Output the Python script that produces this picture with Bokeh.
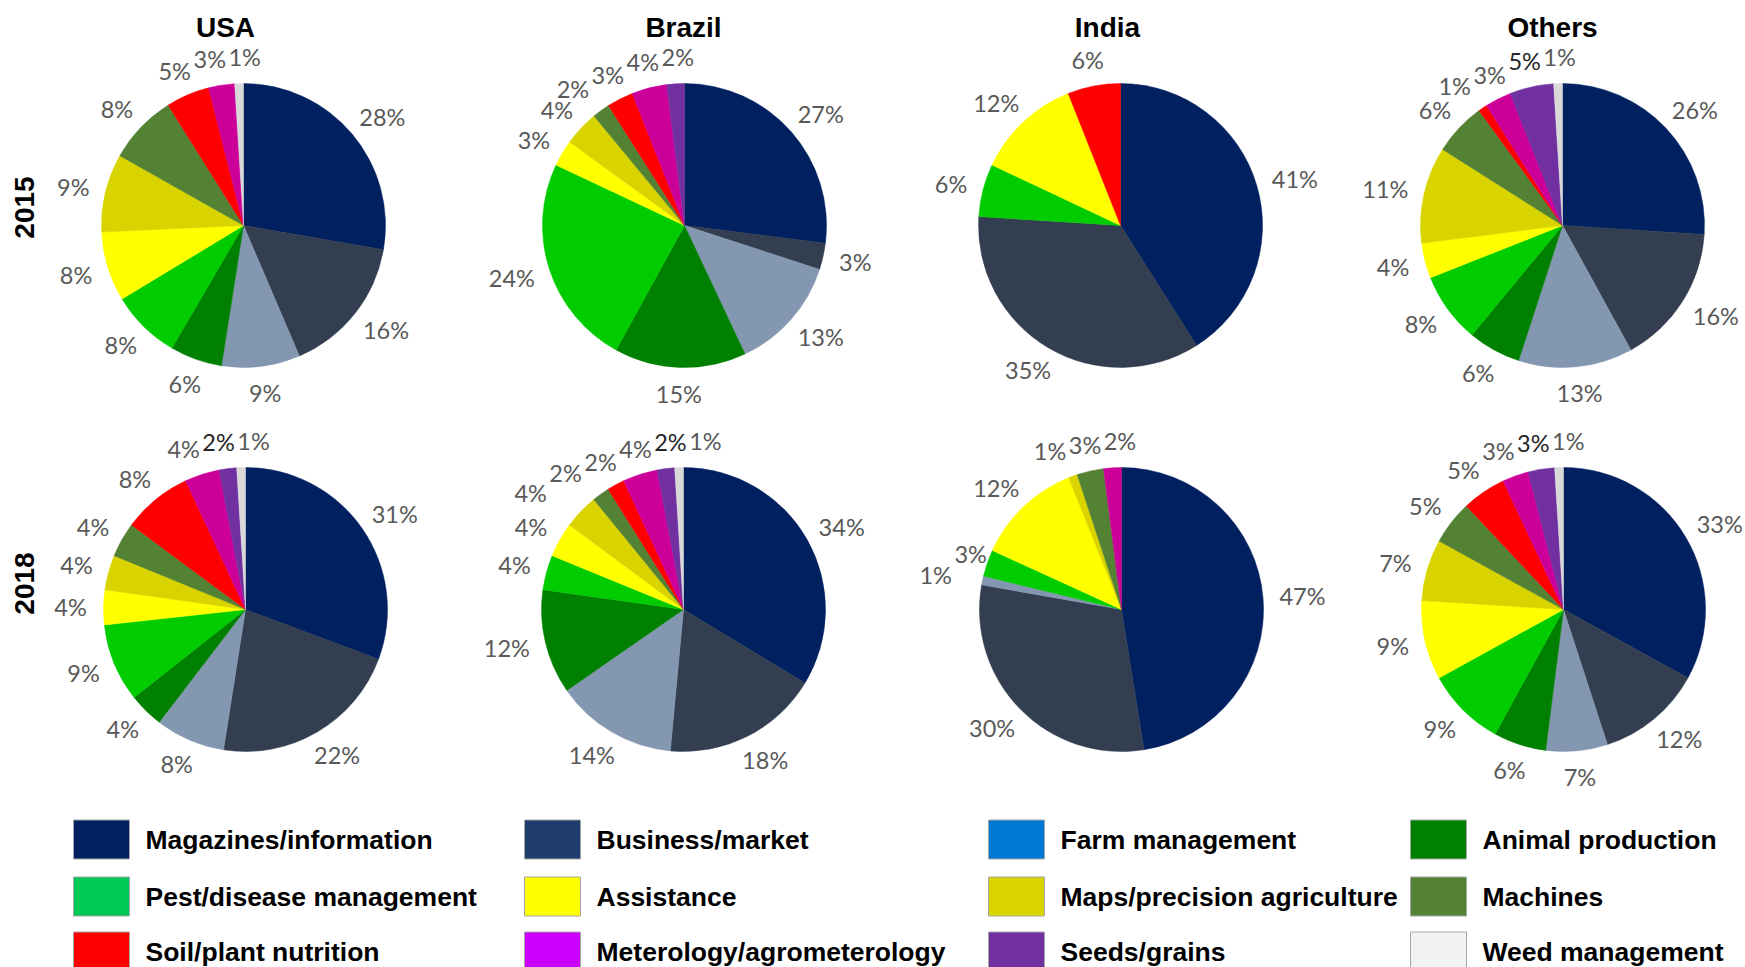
import math
from bokeh.plotting import figure
from bokeh.models import ColumnDataSource, Range1d
from bokeh.core.properties import value
from bokeh.embed import file_html
from bokeh.resources import INLINE

# Categories in the order the slices run clockwise from 12 o'clock
categories = [
    "Magazines/information", "Business/market", "Farm management",
    "Animal production", "Pest/disease management", "Assistance",
    "Maps/precision agriculture", "Machines", "Soil/plant nutrition",
    "Meterology/agrometerology", "Seeds/grains", "Weed management",
]
pie_colors = [
    "#002060", "#333F50", "#8497B0", "#008000", "#00CC00", "#FFFF00",
    "#D9D400", "#548235", "#FF0000", "#CC0099", "#7030A0", "#D9D9D9",
]
legend_colors = [
    "#002060", "#1F3D6C", "#0078D4", "#008000", "#00C957", "#FFFF00",
    "#D9D400", "#548235", "#FF0000", "#CC00FF", "#7030A0", "#F2F2F2",
]

countries = ["USA", "Brazil", "India", "Others"]
years = ["2015", "2018"]

# Share of each category (%), same order as `categories`
usa_2015 = [28, 16, 9, 6, 8, 8, 9, 8, 5, 3, 0, 1]
brazil_2015 = [27, 3, 13, 15, 24, 3, 4, 2, 3, 4, 2, 0]
india_2015 = [41, 35, 0, 0, 6, 12, 0, 0, 6, 0, 0, 0]
others_2015 = [26, 16, 13, 6, 8, 4, 11, 6, 1, 3, 5, 1]
usa_2018 = [31, 22, 8, 4, 9, 4, 4, 4, 8, 4, 2, 1]
brazil_2018 = [34, 18, 14, 12, 4, 4, 4, 2, 2, 4, 2, 1]
india_2018 = [47, 30, 1, 0, 3, 12, 1, 3, 0, 2, 0, 0]
others_2018 = [33, 12, 7, 6, 9, 9, 7, 5, 5, 3, 3, 1]

shares = [
    [usa_2015, brazil_2015, india_2015, others_2015],
    [usa_2018, brazil_2018, india_2018, others_2018],
]
# panels whose seeds/grains label is printed darker
dark_seed_label = [[False, False, False, True], [True, True, False, True]]

W, H = 1745, 967


def Y(y):
    return H - y


p = figure(width=W, height=H, x_range=Range1d(0, W), y_range=Range1d(0, H),
           output_backend="svg", toolbar_location=None,
           x_axis_location=None, y_axis_location=None, min_border=0)
p.grid.grid_line_color = None
p.outline_line_color = None
p.background_fill_color = "white"
p.border_fill_color = "white"

R = 142
GAP = 17
LABEL_FS = 23.5
centers_x = [[243, 684, 1120, 1562], [245, 683, 1121, 1563]]
centers_y = [225, 609]
title_x = [225, 683, 1107, 1552]


def text_width(s, fs):
    return sum((0.80 if ch == "%" else 0.56) * fs for ch in s)


wx, wy, ws, we, wc = [], [], [], [], []
lx, ly, lt, lc = [], [], [], []

for r in range(2):
    for c in range(4):
        vals = shares[r][c]
        total = float(sum(vals))
        cx, cy = centers_x[r][c], centers_y[r]
        cum = 0.0
        labels = []
        for k, v in enumerate(vals):
            if v <= 0:
                continue
            f0, f1 = cum / total, (cum + v) / total
            cum += v
            wx.append(cx)
            wy.append(Y(cy))
            ws.append(math.pi / 2 - 2 * math.pi * f0)
            we.append(math.pi / 2 - 2 * math.pi * f1)
            wc.append(pie_colors[k])

            th = 2 * math.pi * (f0 + f1) / 2
            ux, uy = math.sin(th), -math.cos(th)
            s = f"{v}%"
            w = text_width(s, LABEL_FS)
            h = 0.8 * LABEL_FS
            x = cx + (R + GAP) * ux + ux * w / 2
            y = cy + (R + GAP) * uy + uy * h / 2
            dark = (k == 10 and dark_seed_label[r][c])
            labels.append([x, y, w, h, s, "#262626" if dark else "#595959"])

        # push apart labels that collide
        for _ in range(60):
            moved = False
            for i in range(len(labels)):
                for j in range(i + 1, len(labels)):
                    a, b = labels[i], labels[j]
                    ox = (a[2] + b[2]) / 2 + 3 - abs(a[0] - b[0])
                    oy = (a[3] + b[3]) / 2 + 2 - abs(a[1] - b[1])
                    if ox > 0 and oy > 0:
                        moved = True
                        if a[0] <= b[0]:
                            a[0] -= ox / 2
                            b[0] += ox / 2
                        else:
                            a[0] += ox / 2
                            b[0] -= ox / 2
            if not moved:
                break
        for x, y, w, h, s, col in labels:
            lx.append(x)
            ly.append(Y(y))
            lt.append(s)
            lc.append(col)

p.wedge(x="x", y="y", radius=R, start_angle="s", end_angle="e",
        direction="clock", fill_color="c", line_color="c", line_width=0.5,
        source=ColumnDataSource(dict(x=wx, y=wy, s=ws, e=we, c=wc)))

p.text(x="x", y="y", text="t", text_color="c",
       text_font=value("Lato"), text_font_size=value(f"{LABEL_FS}px"),
       text_align="center", text_baseline="middle",
       source=ColumnDataSource(dict(x=lx, y=ly, t=lt, c=lc)))

# column titles
p.text(x=title_x, y=[Y(27)] * 4, text=countries,
       text_font=value("Liberation Sans"), text_font_style="bold",
       text_font_size=value("28px"), text_color="#000000",
       text_align="center", text_baseline="middle")

# row labels
p.text(x=[24, 24], y=[Y(207), Y(583)], text=years, angle=math.pi / 2,
       text_font=value("Liberation Sans"), text_font_style="bold",
       text_font_size=value("28px"), text_color="#000000",
       text_align="center", text_baseline="middle")

# legend: 4 columns x 3 rows, filled row by row
col_left = [73, 524, 988, 1410]
row_mid = [839, 896, 951]
sw_x, sw_y, sw_c, tx, ty = [], [], [], [], []
for k, name in enumerate(categories):
    rr, cc = divmod(k, 4)
    sw_x.append(col_left[cc] + 28)
    sw_y.append(Y(row_mid[rr]))
    sw_c.append(legend_colors[k])
    tx.append(col_left[cc] + 72)
    ty.append(Y(row_mid[rr]))

p.rect(x=sw_x, y=sw_y, width=56, height=39, fill_color=sw_c,
       line_color="#A6A6A6", line_width=1)
p.text(x=tx, y=ty, text=categories, text_font=value("Liberation Sans"),
       text_font_style="bold", text_font_size=value("26.5px"),
       text_color="#000000", text_align="left", text_baseline="middle")

open("out.html", "w").write(file_html(p, INLINE))
